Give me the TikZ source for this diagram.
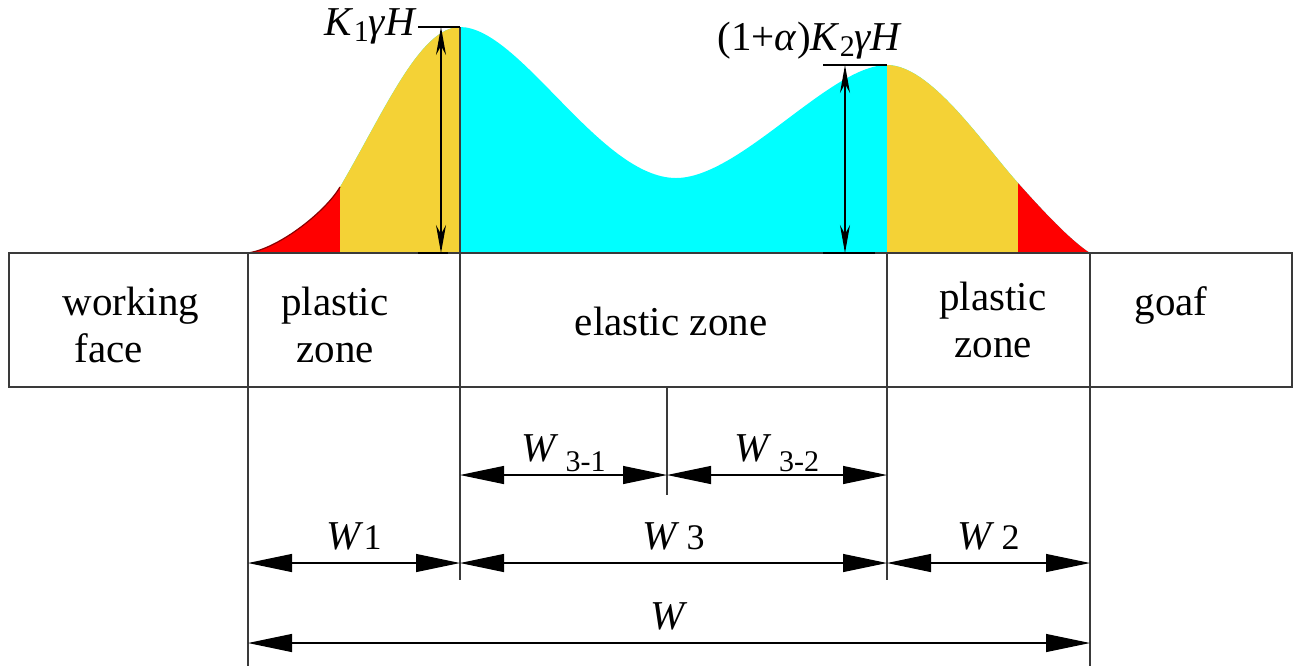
\documentclass[tikz,border=0pt]{standalone}
\usepackage{fontspec}
\setmainfont{LiberationSerif}[Extension=.ttf, UprightFont=*-Regular, ItalicFont=*-Italic, BoldFont=*-Bold]
\usetikzlibrary{arrows.meta}
\definecolor{zoneCyan}{HTML}{00FFFF}
\definecolor{zoneYellow}{HTML}{F4D236}
\definecolor{zoneRed}{HTML}{FF0000}
\definecolor{lineGray}{HTML}{3A3A3A}
\newcommand{\lowsub}[1]{\raisebox{-5pt}{\fontsize{15}{15}\selectfont #1}}
\newcommand{\ksub}[1]{\raisebox{-3pt}{\fontsize{15}{15}\selectfont #1}}

\begin{document}
\begin{tikzpicture}[x=0.5pt, y=-0.5pt,
    zonetext/.style={font=\fontsize{20.5}{23.5}\selectfont, align=center, inner sep=0pt},
    dimtext/.style={font=\fontsize{20.5}{22}\selectfont, midway, anchor=base, yshift=7pt, inner sep=0pt},
    boxline/.style={lineGray, line width=1pt},
    extline/.style={lineGray, line width=0.6pt},
    dim/.style={black, line width=0.6pt, {Triangle[length=22pt,width=9pt]}-{Triangle[length=22pt,width=9pt]}},
    hdim/.style={black, line width=0.6pt, {Stealth[length=14pt,width=5pt]}-{Stealth[length=14pt,width=5pt]}}]
    \useasboundingbox (0,0) rectangle (1297,666);

    % stress profile
    \path[save path=\profile] (248,253) .. controls (280,248) and (326,211) .. (340,187)
        .. controls (385,110) and (420,27) .. (460,27)
        .. controls (520,27) and (600,178) .. (676,178)
        .. controls (740,178) and (830,65) .. (887,65)
        .. controls (930,65) and (980,140) .. (1018,183)
        .. controls (1043,211) and (1070,240) .. (1090,253) -- cycle;
    \path[fill=zoneCyan, use path=\profile];
    \begin{scope}
        \clip (0,0) rectangle (340,260);
        \path[fill=zoneRed, use path=\profile];
    \end{scope}
    \begin{scope}
        \clip (340,0) rectangle (460,260);
        \path[fill=zoneYellow, use path=\profile];
    \end{scope}
    \begin{scope}
        \clip (887,0) rectangle (1018,260);
        \path[fill=zoneYellow, use path=\profile];
    \end{scope}
    \begin{scope}
        \clip (1018,0) rectangle (1297,260);
        \path[fill=zoneRed, use path=\profile];
    \end{scope}
    \draw[zoneRed!55!black, line width=0.6pt] (248,253) .. controls (280,248) and (326,211) .. (340,187);

    % zone boxes
    \draw[boxline] (9,253) rectangle (1292,387);
    \coordinate (p0) at (248,253);
    \coordinate (p1) at (460,27);
    \coordinate (pm) at (667,387);
    \coordinate (p2) at (887,253);
    \coordinate (p3) at (1090,253);
    \coordinate (q0) at (248,666);
    \coordinate (q1) at (460,580);
    \coordinate (qm) at (667,495);
    \coordinate (q2) at (887,580);
    \coordinate (q3) at (1090,666);
    \draw[extline] (p0) -- (q0);
    \draw[extline] (p1) -- (q1);
    \draw[extline] (pm) -- (qm);
    \draw[extline] (p2) -- (q2);
    \draw[extline] (p3) -- (q3);

    \node[zonetext, align=left] (face) at (131,325) {working\\\hspace*{6pt}face};
    \node[zonetext] (plastic1) at (335,325) {plastic\\zone};
    \node[zonetext, anchor=base] (elastic) at (671,335) {elastic zone};
    \node[zonetext] (plastic2) at (993,320) {plastic\\zone};
    \node[zonetext, anchor=base] (goaf) at (1171,315) {goaf};

    % peak stress
    \node[zonetext, anchor=base east] (k1) at (417,35) {\textit{K}\ksub{1}\textit{γH}};
    \node[zonetext, anchor=base] (k2) at (810,50) {(1+\textit{α})\textit{K}\ksub{2}\textit{γH}};
    \coordinate (t1a) at (418,27);
    \coordinate (t1b) at (460,27);
    \coordinate (b1a) at (418,253);
    \coordinate (b1b) at (448,253);
    \coordinate (t2a) at (823,65);
    \coordinate (t2b) at (887,65);
    \coordinate (b2a) at (823,253);
    \coordinate (b2b) at (875,253);
    \draw[extline, black] (t1a) -- (t1b);
    \draw[extline, black] (b1a) -- (b1b);
    \draw[extline, black] (t2a) -- (t2b);
    \draw[extline, black] (b2a) -- (b2b);
    \coordinate (h1t) at (441,27);
    \coordinate (h1b) at (441,253);
    \coordinate (h2t) at (845,65);
    \coordinate (h2b) at (845,253);
    \draw[hdim] (h1t) -- (h1b);
    \draw[hdim] (h2t) -- (h2b);

    % widths
    \coordinate (u1) at (460,475);
    \coordinate (um) at (667,475);
    \coordinate (u2) at (887,475);
    \coordinate (m0) at (248,563);
    \coordinate (m1) at (460,563);
    \coordinate (m2) at (887,563);
    \coordinate (m3) at (1090,563);
    \coordinate (l0) at (248,643);
    \coordinate (l3) at (1090,643);
    \draw[dim] (u1) -- node[dimtext] {\textit{W}\,\lowsub{3-1}} (um);
    \draw[dim] (um) -- node[dimtext] {\textit{W}\,\lowsub{3-2}} (u2);
    \draw[dim] (m0) -- node[dimtext] {\textit{W}{\fontsize{18}{18}\selectfont 1}} (m1);
    \draw[dim] (m1) -- node[dimtext] {\textit{W}\,{\fontsize{18}{18}\selectfont 3}} (m2);
    \draw[dim] (m2) -- node[dimtext] {\textit{W}\,{\fontsize{18}{18}\selectfont 2}} (m3);
    \draw[dim] (l0) -- node[dimtext] {\textit{W}} (l3);
\end{tikzpicture}
\end{document}
